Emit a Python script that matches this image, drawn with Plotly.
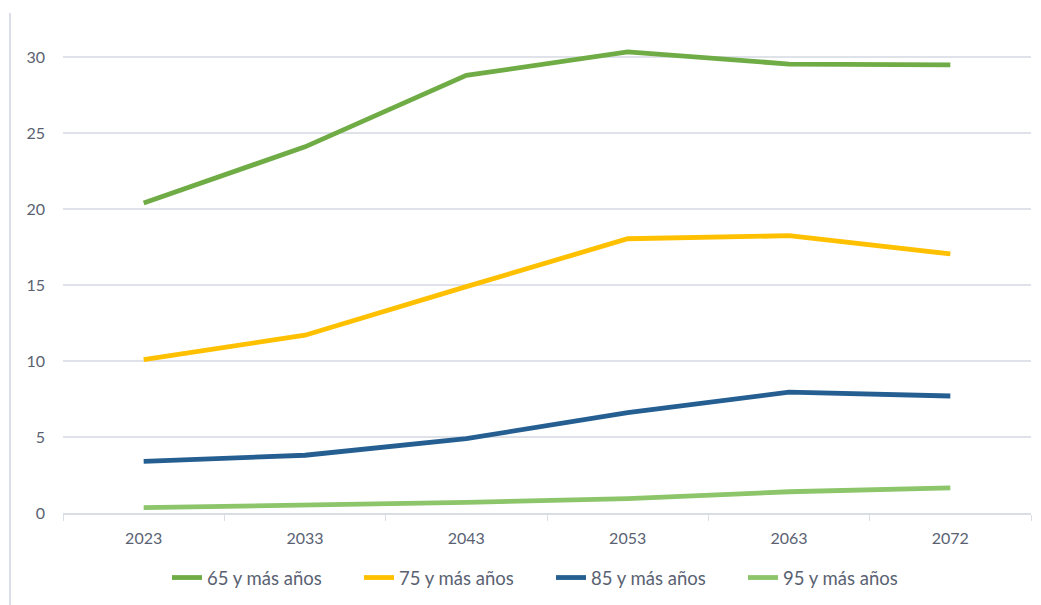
import plotly.graph_objects as go

years = ["2023", "2033", "2043", "2053", "2063", "2072"]
s65 = [20.4, 24.1, 28.8, 30.35, 29.55, 29.5]
s75 = [10.1, 11.7, 14.9, 18.05, 18.25, 17.05]
s85 = [3.4, 3.8, 4.9, 6.6, 7.95, 7.7]
s95 = [0.35, 0.5, 0.7, 0.95, 1.4, 1.65]
names = ["65 y más años", "75 y más años", "85 y más años", "95 y más años"]
colors = ["#6fac46", "#ffc000", "#255e91", "#8cc56a"]

fig = go.Figure()
for name, vals, col in zip(names, [s65, s75, s85, s95], colors):
    fig.add_trace(go.Scatter(x=years, y=vals, name=name, mode="lines",
                             line=dict(color=col, width=4.8)))

W, H = 1033, 597
L, R, T, B = 55, 10, 34, 92
pw, ph = W - L - R, H - T - B

txt = "#5a6272"
fig.update_layout(
    width=W, height=H,
    margin=dict(l=L, r=R, t=T, b=B),
    paper_bgcolor="white", plot_bgcolor="white",
    font=dict(family="Lato, Carlito, sans-serif", size=16, color=txt),
    showlegend=True,
    legend=dict(orientation="h", xref="container", yref="container",
                x=159 / W, xanchor="left", y=1 - 570 / H, yanchor="middle",
                font=dict(size=18.5, color=txt), itemwidth=30, tracegroupgap=0,
                entrywidth=147, entrywidthmode="pixels"),
    xaxis=dict(type="category", range=[-0.5, 5.5], tickson="boundaries", ticks="outside", ticklen=6,
               tickcolor="#d9dde4", showline=True, linecolor="#d9dde4", linewidth=1.5,
               showgrid=False, zeroline=False, ticklabelstandoff=10),
    yaxis=dict(range=[0, 31], dtick=5, tick0=0, showgrid=True, gridcolor="#dfe2e9",
               gridwidth=1.5, zeroline=False, showline=False, ticklabelstandoff=17),
    shapes=[dict(type="line", xref="paper", yref="paper",
                 x0=(2 - L) / pw, x1=(2 - L) / pw, y0=-B / ph, y1=1 + (T - 5) / ph,
                 line=dict(color="#dcdfe7", width=2))],
)
fig.write_html("out.html")
